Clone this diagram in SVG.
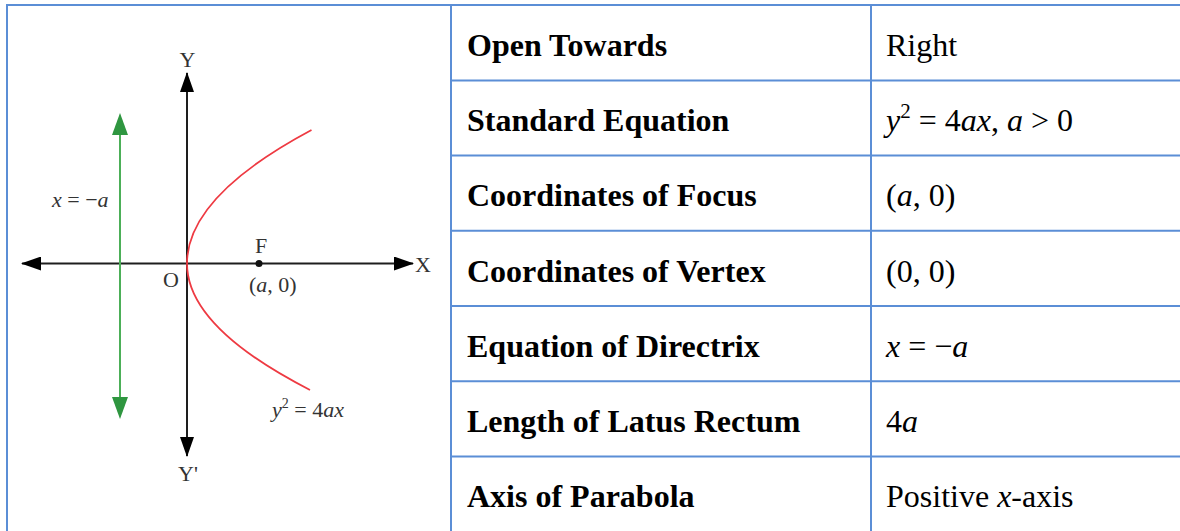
<svg xmlns="http://www.w3.org/2000/svg" width="1180" height="531" viewBox="0 0 1180 531">
<style>
.grid{stroke:#5b8ed6;stroke-width:2;fill:none}
.hd{font-family:"Liberation Serif","Times New Roman",serif;font-size:32px;font-weight:bold;fill:#000}
.vl{font-family:"Liberation Serif","Times New Roman",serif;font-size:32px;fill:#000}
.it{font-style:italic}
.lbl{font-family:"Liberation Serif","Times New Roman",serif;font-size:22px;fill:#333}
.axis{stroke:#1e1e1e;stroke-width:2;fill:none}
</style>
<defs>
<marker id="ah" viewBox="0 0 20 14" refX="19" refY="7" markerWidth="20" markerHeight="14" markerUnits="userSpaceOnUse" orient="auto-start-reverse">
<path d="M0,0 L20,7 L0,14 z" fill="#000"/>
</marker>
</defs>
<rect width="1180" height="531" fill="#fff"/>
<g id="table-grid">
<line class="grid" x1="6" y1="5" x2="1180" y2="5"/>
<line class="grid" x1="7" y1="4" x2="7" y2="531"/>
<line class="grid" x1="451" y1="5" x2="451" y2="531"/>
<line class="grid" x1="871" y1="5" x2="871" y2="531"/>
<line class="grid" x1="451" y1="80.5" x2="1180" y2="80.5"/>
<line class="grid" x1="451" y1="155.5" x2="1180" y2="155.5"/>
<line class="grid" x1="451" y1="230.8" x2="1180" y2="230.8"/>
<line class="grid" x1="451" y1="306" x2="1180" y2="306"/>
<line class="grid" x1="451" y1="381.3" x2="1180" y2="381.3"/>
<line class="grid" x1="451" y1="456.5" x2="1180" y2="456.5"/>
</g>
<g id="row-open">
<text class="hd" x="467" y="56">Open Towards</text>
<text class="vl" x="886" y="56">Right</text>
</g>
<g id="row-equation">
<text class="hd" x="467" y="131">Standard Equation</text>
<text class="vl" x="886" y="131"><tspan class="it">y</tspan><tspan font-size="21" dy="-13">2</tspan><tspan dy="13"> = 4</tspan><tspan class="it">ax</tspan>, <tspan class="it">a</tspan> &gt; 0</text>
</g>
<g id="row-focus">
<text class="hd" x="467" y="206">Coordinates of Focus</text>
<text class="vl" x="886" y="206">(<tspan class="it">a</tspan>, 0)</text>
</g>
<g id="row-vertex">
<text class="hd" x="467" y="281.5">Coordinates of Vertex</text>
<text class="vl" x="886" y="281.5">(0, 0)</text>
</g>
<g id="row-directrix">
<text class="hd" x="467" y="356.5">Equation of Directrix</text>
<text class="vl" x="886" y="356.5"><tspan class="it">x</tspan> = −<tspan class="it">a</tspan></text>
</g>
<g id="row-latus">
<text class="hd" x="467" y="431.5">Length of Latus Rectum</text>
<text class="vl" x="886" y="431.5">4<tspan class="it">a</tspan></text>
</g>
<g id="row-axis">
<text class="hd" x="467" y="506.5">Axis of Parabola</text>
<text class="vl" x="886" y="506.5">Positive <tspan class="it">x</tspan>-axis</text>
</g>
<g id="diagram">
<g id="connectors">
<line id="x-axis" class="axis" x1="22" y1="263.5" x2="413" y2="263.5" marker-start="url(#ah)" marker-end="url(#ah)"/>
<line id="y-axis" class="axis" x1="187" y1="73" x2="187" y2="456" marker-start="url(#ah)" marker-end="url(#ah)"/>
<g id="directrix">
<line x1="120" y1="118" x2="120" y2="414" stroke="#4caf58" stroke-width="2"/>
<path d="M120,113 L128,135 L112,135 z" fill="#2f9640"/>
<path d="M120,419 L128,397 L112,397 z" fill="#2f9640"/>
</g>
<path id="parabola" d="M311.5,130 Q187,196.5 187,263.5 Q187,327 310,390" fill="none" stroke="#ee3a42" stroke-width="1.8"/>
</g>
<circle id="focus" cx="259" cy="263.5" r="3.5" fill="#111"/>
<g id="labels">
<text class="lbl" x="187.5" y="67" text-anchor="middle" font-size="25">Y</text>
<text class="lbl" x="188" y="481" text-anchor="middle" font-size="23">Y'</text>
<text class="lbl" x="415" y="272" font-size="25">X</text>
<text class="lbl" x="163" y="287">O</text>
<text class="lbl" x="255" y="253">F</text>
<text class="lbl" x="249" y="292" font-size="20.5">(<tspan class="it">a</tspan>, 0)</text>
<text class="lbl" x="52" y="207" font-size="20"><tspan class="it">x</tspan> = −<tspan class="it">a</tspan></text>
<text class="lbl" x="272" y="417" font-size="21.5"><tspan class="it">y</tspan><tspan font-size="14" dy="-9">2</tspan><tspan dy="9"> = 4</tspan><tspan class="it">ax</tspan></text>
</g>
</g>
</svg>
